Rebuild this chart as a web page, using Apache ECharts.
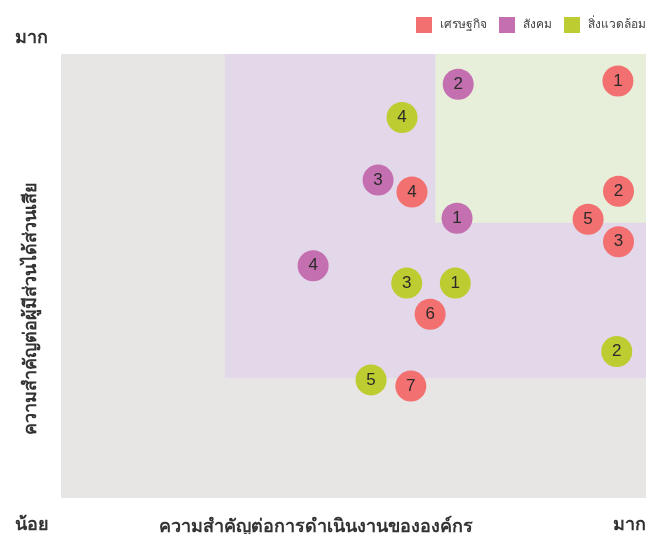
<!DOCTYPE html>
<html>
<head>
<meta charset="utf-8">
<script src="https://cdn.jsdelivr.net/npm/echarts@6/dist/echarts.min.js"></script>
<style>
  html, body { margin: 0; padding: 0; background: #fff; }
  #chart { width: 661px; height: 534px; }
</style>
</head>
<body>
<div id="chart"></div>
<script>
// ข้อมูลประเด็น [ความสำคัญต่อองค์กร, ความสำคัญต่อผู้มีส่วนได้ส่วนเสีย, ลำดับ]
var seriesNames = ['เศรษฐกิจ', 'สังคม', 'สิ่งแวดล้อม'];
var economyData = [[95.2, 93.9, 1], [95.3, 69.1, 2], [95.3, 57.7, 3], [60.0, 68.9, 4], [90.1, 62.8, 5], [63.1, 41.4, 6], [59.8, 25.2, 7]];
var socialData = [[67.7, 63.0, 1], [67.9, 93.2, 2], [54.2, 71.6, 3], [43.1, 52.3, 4]];
var envData = [[67.4, 48.4, 1], [95.0, 33.0, 2], [59.1, 48.4, 3], [58.3, 85.7, 4], [53.0, 26.6, 5]];
// พื้นที่ไฮไลต์ [xStart, yStart, xEnd, yEnd]
var purpleZone = [28, 27, 100, 100];
var greenZone = [64, 62, 100, 100];

var chart = echarts.init(document.getElementById('chart'));

var font = '"Noto Sans", sans-serif';

function makeSeries(name, data, color, z) {
  return {
    name: name,
    type: 'scatter',
    data: data,
    symbolSize: 31,
    z: z,
    itemStyle: { color: color, opacity: 1 },
    label: {
      show: true,
      position: 'inside',
      formatter: function (p) { return p.value[2]; },
      color: '#2b2b2b',
      fontSize: 17,
      fontFamily: 'Liberation Sans, Arial, sans-serif'
    },
    emphasis: { disabled: true }
  };
}

var option = {
  animation: false,
  color: ['#F37070', '#C36FB0', '#BDCC30'],
  legend: {
    data: seriesNames,
    right: 10,
    top: 12,
    icon: 'rect',
    itemWidth: 16,
    itemHeight: 16,
    itemGap: 12,
    textStyle: { color: '#444', fontSize: 12, fontFamily: font, padding: [0, 0, 0, 3] }
  },
  grid: {
    left: 61,
    top: 54,
    width: 585,
    height: 444,
    show: true,
    backgroundColor: '#E8E6E4',
    borderWidth: 0
  },
  xAxis: {
    type: 'value', min: 0, max: 100,
    axisLine: { show: false }, axisTick: { show: false },
    axisLabel: { show: false }, splitLine: { show: false }
  },
  yAxis: {
    type: 'value', min: 0, max: 100,
    axisLine: { show: false }, axisTick: { show: false },
    axisLabel: { show: false }, splitLine: { show: false }
  },
  series: [
    {
      name: 'zones',
      type: 'scatter',
      data: [],
      z: 1,
      silent: true,
      markArea: {
        silent: true,
        data: [
          [{ coord: [purpleZone[0], purpleZone[1]], itemStyle: { color: '#E3D7EA' } },
           { coord: [purpleZone[2], purpleZone[3]] }],
          [{ coord: [greenZone[0], greenZone[1]], itemStyle: { color: '#E7EFDA' } },
           { coord: [greenZone[2], greenZone[3]] }]
        ]
      }
    },
    makeSeries(seriesNames[0], economyData, '#F37070', 4),
    makeSeries(seriesNames[1], socialData, '#C36FB0', 2),
    makeSeries(seriesNames[2], envData, '#BDCC30', 3)
  ],
  graphic: [
    { type: 'text', left: 15, top: 29, style: { text: 'มาก', fontSize: 18, fontWeight: 'bold', fill: '#333', fontFamily: font } },
    { type: 'text', left: 15, top: 516, style: { text: 'น้อย', fontSize: 18, fontWeight: 'bold', fill: '#333', fontFamily: font } },
    { type: 'text', right: 15, top: 516, style: { text: 'มาก', fontSize: 18, fontWeight: 'bold', fill: '#333', fontFamily: font } },
    { type: 'text', x: 316, y: 527, style: { text: 'ความสำคัญต่อการดำเนินงานขององค์กร', fontSize: 18, fontWeight: 'bold', fill: '#333', fontFamily: font, align: 'center', verticalAlign: 'middle' } },
    { type: 'text', x: 31, y: 308, rotation: Math.PI / 2, style: { text: 'ความสำคัญต่อผู้มีส่วนได้ส่วนเสีย', fontSize: 18, fontWeight: 'bold', fill: '#333', fontFamily: font, align: 'center', verticalAlign: 'middle' } }
  ]
};

chart.setOption(option);
</script>
</body>
</html>
